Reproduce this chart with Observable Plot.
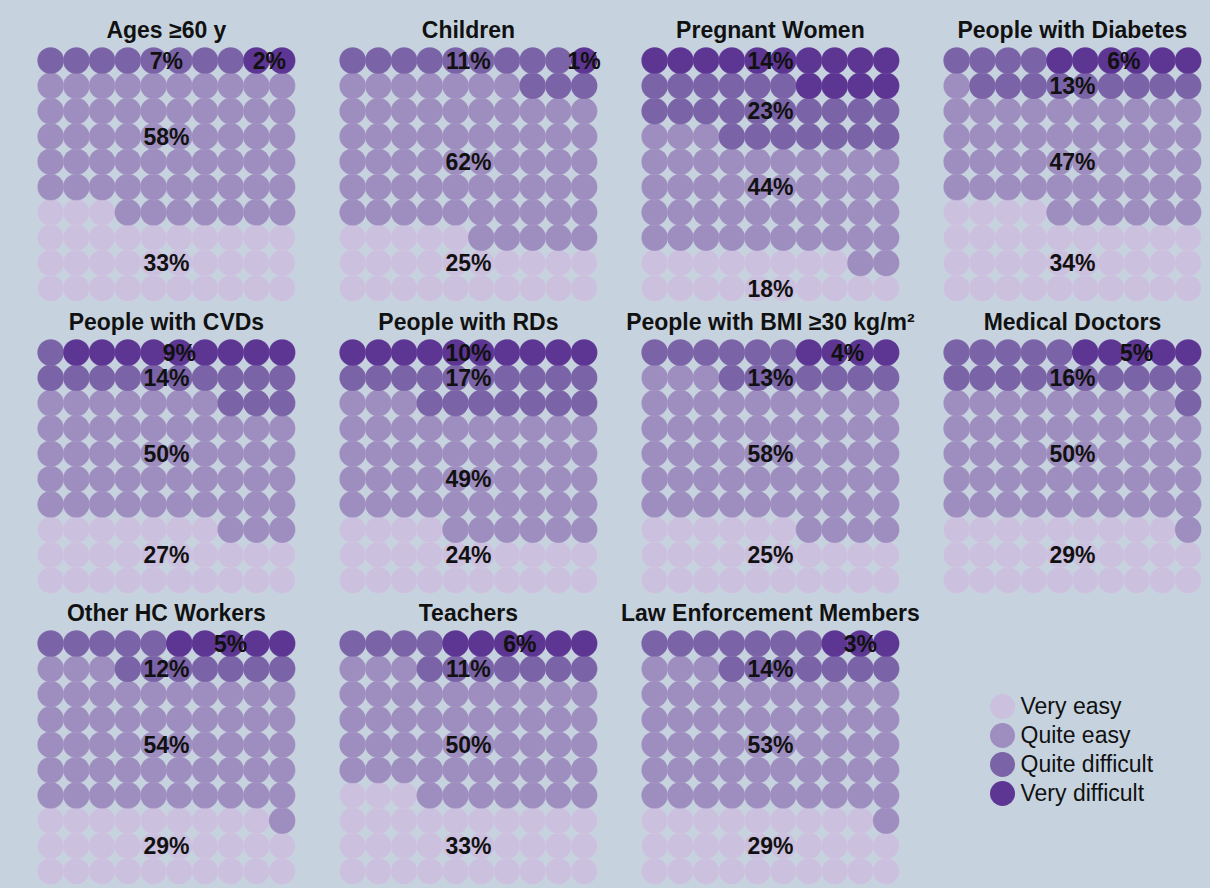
<!DOCTYPE html>
<html>
<head>
<meta charset="utf-8">
<script src="https://cdn.jsdelivr.net/npm/d3@7"></script>
<script src="https://cdn.jsdelivr.net/npm/@observablehq/plot@0.6"></script>
<style>
  html, body { margin: 0; padding: 0; background: #c6d3df; overflow: hidden; }
  #chart { position: relative; width: 1210px; height: 888px; background: #c6d3df; overflow: hidden;
           font-family: "Liberation Sans", Arial, Helvetica, sans-serif; }
  #chart > div { position: absolute; }
  #chart svg { overflow: visible; max-width: none !important; height: auto; }
</style>
</head>
<body>
<div id="chart"></div>
<script>
// ---- Data ----
const groups = [
  "Ages ≥60 y", "Children", "Pregnant Women", "People with Diabetes",
  "People with CVDs", "People with RDs", "People with BMI ≥30 kg/m²", "Medical Doctors",
  "Other HC Workers", "Teachers", "Law Enforcement Members"
];
const categories = ["Very easy", "Quite easy", "Quite difficult", "Very difficult"];
const colors = ["#cbc0de", "#9e8dbf", "#7a63a6", "#5d3593"];

// Percentages shown as labels
const veryEasyPct       = [33, 25, 18, 34, 27, 24, 25, 29, 29, 33, 29];
const quiteEasyPct      = [58, 62, 44, 47, 50, 49, 58, 50, 54, 50, 53];
const quiteDifficultPct = [7, 11, 23, 13, 14, 17, 13, 16, 12, 11, 14];
const veryDifficultPct  = [2, 1, 14, 6, 9, 10, 4, 5, 5, 6, 3];

// Number of dots (out of 100) drawn for each category
const veryEasyDots       = [33, 25, 18, 34, 27, 24, 26, 29, 29, 33, 29];
const quiteEasyDots      = [57, 62, 45, 47, 50, 49, 57, 50, 54, 50, 54];
const quiteDifficultDots = [8, 12, 23, 13, 14, 17, 13, 16, 12, 11, 14];
const veryDifficultDots  = [2, 1, 14, 6, 9, 10, 4, 5, 5, 6, 3];

const pctLabels = [veryEasyPct, quiteEasyPct, quiteDifficultPct, veryDifficultPct];
const dotCounts = [veryEasyDots, quiteEasyDots, quiteDifficultDots, veryDifficultDots];

// ---- Layout ----
const stepX = 301.8, stepY = 291.5;
const dotW = 25.72, dotH = 25.3;
const bandLeft0 = 37.6, bandTop0 = 47.35;
const padX = (stepX - 10 * dotW) / 2;
const svgH = 301;
const font = '"Liberation Sans", Arial, Helvetica, sans-serif';

const chart = document.getElementById("chart");

groups.forEach((g, gi) => {
  const pc = gi % 4, pr = Math.floor(gi / 4);
  const counts = dotCounts.map(a => a[gi]);
  const cells = [];
  let idx = 0;
  counts.forEach((n, ci) => {
    for (let k = 0; k < n; k++, idx++) {
      cells.push({cat: categories[ci], col: idx % 10, row: Math.floor(idx / 10)});
    }
  });
  const labels = [];
  let s = 0;
  counts.forEach((n, ci) => {
    if (n > 0) {
      const e = s + n - 1;
      const med = s + (n - 1) / 2;
      const row = Math.floor(med / 10);
      const single = Math.floor(s / 10) === Math.floor(e / 10);
      const x = single ? Math.max(4.5, ((s % 10) + (e % 10)) / 2) : 4.5;
      labels.push({x, y: row, text: pctLabels[ci][gi] + "%"});
    }
    s += n;
  });

  const plot = Plot.plot({
    width: stepX,
    height: svgH,
    marginLeft: padX,
    marginRight: padX,
    marginTop: bandTop0,
    marginBottom: svgH - bandTop0 - 10 * dotH,
    x: {domain: [-0.5, 9.5], axis: null},
    y: {domain: [-0.5, 9.5], axis: null},
    color: {domain: categories, range: colors},
    style: {background: "transparent", overflow: "visible", fontFamily: font},
    marks: [
      Plot.dot(cells, {x: "col", y: "row", fill: "cat", r: 13.3,
                       stroke: "#ffffff", strokeOpacity: 0.12, strokeWidth: 0.6}),
      Plot.text(labels, {x: "x", y: "y", text: "text", fontSize: 23, dy: 1,
                         fontWeight: "bold", fill: "#111"}),
      Plot.text([g], {frameAnchor: "top", lineAnchor: "middle", dy: 30 - bandTop0,
                      fontSize: 23, fontWeight: "bold", fill: "#111"})
    ]
  });
  const wrap = document.createElement("div");
  wrap.style.left = (bandLeft0 + pc * stepX - padX) + "px";
  wrap.style.top = (pr * stepY) + "px";
  wrap.style.width = stepX + "px";
  wrap.style.height = svgH + "px";
  wrap.appendChild(plot);
  chart.appendChild(wrap);
});

// ---- Legend ----
const legend = Plot.plot({
  width: 230,
  height: 130,
  margin: 0,
  y: {type: "point", domain: categories, range: [25, 113], padding: 0, axis: null},
  color: {domain: categories, range: colors},
  style: {background: "transparent", overflow: "visible", fontFamily: font},
  marks: [
    Plot.dot(categories, {y: d => d, fill: d => d, r: 12.5, frameAnchor: "left", dx: 22}),
    Plot.text(categories, {y: d => d, text: d => d, frameAnchor: "left", dx: 40,
                           textAnchor: "start", fontSize: 23, fill: "#111"})
  ]
});
const lw = document.createElement("div");
lw.style.left = "980px";
lw.style.top = "680px";
lw.style.width = "230px";
lw.style.height = "130px";
lw.appendChild(legend);
chart.appendChild(lw);
</script>
</body>
</html>
